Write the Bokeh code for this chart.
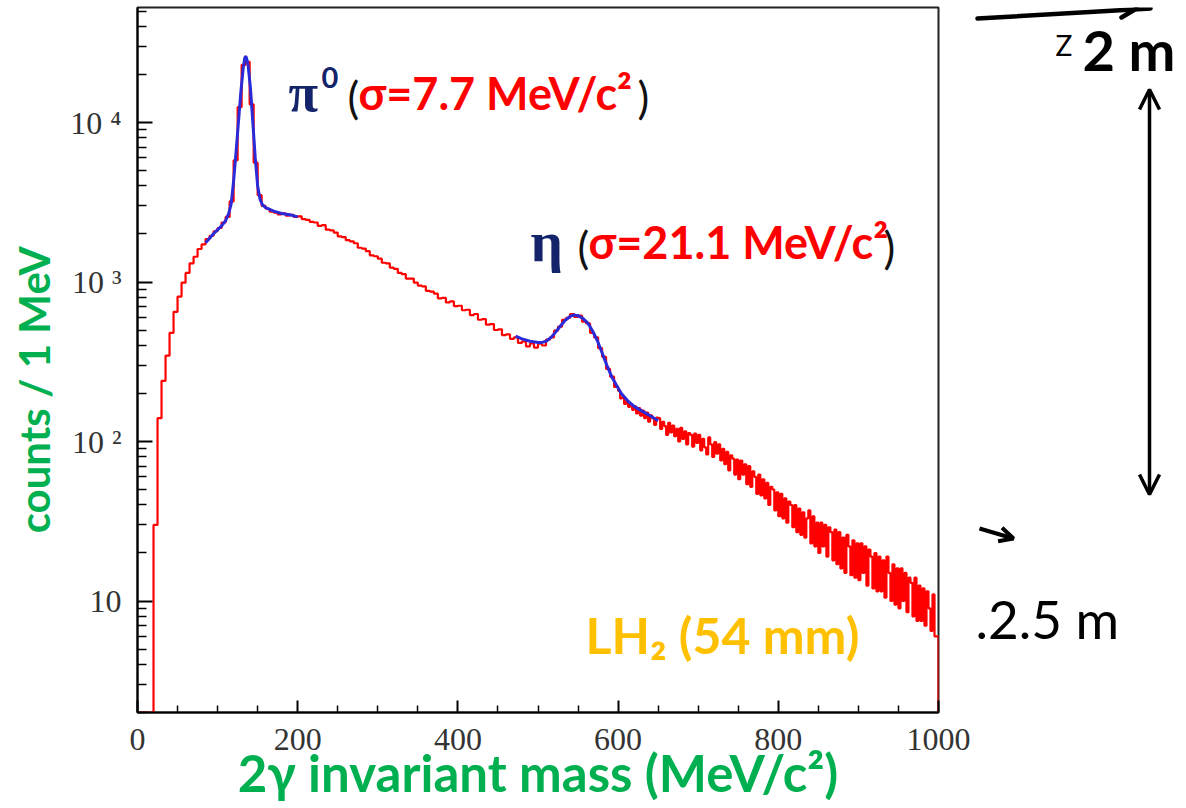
import math
from bokeh.plotting import figure
from bokeh.layouts import row
from bokeh.models import Range1d, FixedTicker, Label, Arrow, OpenHead
from bokeh.embed import file_html
from bokeh.resources import INLINE

# ---------------- data ----------------
# 5 MeV bins from 20 to 600 MeV
coarse_start, coarse_width = 20, 5
counts_coarse = [
    30, 140, 240, 345, 480, 650, 810, 990, 1140, 1310,
    1440, 1610, 1720, 1860, 1950, 2080, 2180, 2360, 2560, 3200,
    5800, 12500, 23000, 24000, 13000, 5600, 3500, 3000, 2880, 2760,
    2720, 2650, 2690, 2610, 2640, 2560, 2580, 2480, 2450, 2380,
    2360, 2250, 2270, 2130, 2110, 2040, 1930, 1910, 1830, 1800,
    1750, 1640, 1620, 1560, 1470, 1450, 1400, 1320, 1310, 1230,
    1210, 1140, 1120, 1050, 1050, 990, 950, 940, 880, 870,
    845, 790, 795, 745, 755, 705, 710, 665, 670, 620,
    630, 580, 585, 540, 545, 500, 505, 465, 470, 440,
    450, 415, 425, 395, 412, 388, 410, 400, 435, 450,
    495, 525, 580, 595, 630, 605, 615, 565, 550, 480,
    450, 385, 340, 285, 255, 220,
]
# 2.5 MeV bins from 600 to 1000 MeV
fine_start, fine_width = 600, 2.5
counts_fine = [
    208, 186, 190, 172, 180, 165, 172, 158, 166, 150,
    162, 145, 156, 140, 152, 133, 146, 140, 127, 141,
    140, 120, 133, 125, 110, 131, 114, 126, 108, 120,
    100, 122, 104, 116, 96, 113, 110, 93, 112, 98,
    110, 88, 104, 92, 83, 106, 96, 80, 99, 84,
    96, 76, 90, 72, 86, 66, 82, 78, 62, 77,
    58, 76, 62, 72, 54, 70, 52, 65, 60, 47,
    62, 46, 58, 44, 55, 40, 52, 50, 37, 48,
    34, 47, 33, 44, 31, 42, 40, 29, 40, 27,
    38, 26, 36, 25, 33, 37, 23, 34, 22, 31,
    20, 31, 22, 30, 19, 29, 27, 18, 28, 17,
    27, 16, 25, 15, 26, 22, 14.5, 24, 14, 23,
    13.5, 23, 15, 22, 12.5, 21, 19, 12, 20, 11.5,
    19, 11.5, 18, 10.5, 19, 15, 10, 17, 9.5, 16,
    9, 16, 10, 15, 8.5, 14, 13, 8, 14, 7.5,
    12.5, 7.5, 12, 7, 11.5, 9, 6.5, 11, 6, 6,
]

fit_pi0_mass = [85, 95, 105, 110, 114, 117, 120, 123, 126, 129, 132, 134, 135,
                136, 138, 141, 144, 147, 150, 153, 156, 160, 170, 180, 190, 200]
fit_pi0_counts = [1760, 2010, 2250, 2420, 2700, 3100, 4300, 6500, 10000, 15500,
                  22000, 25500, 26000, 25500, 23000, 16500, 10000, 6000, 4000,
                  3300, 3050, 2930, 2780, 2690, 2640, 2560]

fit_eta_mass = [472, 480, 490, 500, 505, 510, 516, 522, 528, 534, 540, 545, 550,
                556, 562, 568, 574, 580, 586, 592, 598, 604, 612, 620, 630, 640, 650]
fit_eta_counts = [458, 440, 425, 418, 418, 425, 448, 485, 530, 575, 608, 622, 615,
                  592, 555, 495, 430, 360, 300, 255, 225, 200, 180, 166, 155, 145, 135]

x_major = [0, 200, 400, 600, 800, 1000]
x_minor = [50, 100, 150, 250, 300, 350, 450, 500, 550, 650, 700, 750, 850, 900, 950]
y_major = [10, 100, 1000, 10000]
y_labels = ["10", "10 \u00b2", "10 \u00b3", "10 \u2074"]
y_minor = [m * d for d in (1, 10, 100, 1000, 10000) for m in range(2, 10)]

y_lo, y_hi = 2.0, 52600
H = 806
TOP, BOTTOM = 7, 94          # borders -> frame spans page y 7..712


def ylog(py):
    """page-pixel row -> count value on the log axis (for text placement)"""
    frac = (py - TOP) / (H - TOP - BOTTOM)
    return 10 ** (math.log10(y_hi) - frac * (math.log10(y_hi) - math.log10(y_lo)))


def xm(px):
    """page-pixel column -> mass value (for text placement)"""
    return (px - 137) / 801 * 1000


# ---------------- main figure ----------------
p = figure(width=972, height=H, output_backend="svg", toolbar_location=None,
           x_range=Range1d(0, 1000), y_range=Range1d(y_lo, y_hi),
           y_axis_type="log",
           min_border_left=137, min_border_right=34, min_border_top=TOP,
           min_border_bottom=BOTTOM)
p.xgrid.visible = False
p.ygrid.visible = False
p.background_fill_color = "white"
p.border_fill_color = "white"
p.outline_line_color = "#222222"
p.outline_line_width = 2

p.xaxis.ticker = FixedTicker(ticks=x_major, minor_ticks=x_minor)
p.yaxis.ticker = FixedTicker(ticks=y_major, minor_ticks=y_minor)
p.yaxis.major_label_overrides = {t: l for t, l in zip(y_major, y_labels)}
for ax in (p.xaxis, p.yaxis):
    ax.axis_line_width = 2
    ax.axis_line_color = "black"
    ax.major_tick_out = 0
    ax.minor_tick_out = 0
    ax.major_tick_line_width = 2
    ax.minor_tick_line_width = 1.5
    ax.major_label_text_font = "Liberation Serif"
    ax.major_label_text_font_size = "32px"
    ax.major_label_text_color = "#333333"
    ax.axis_label_text_font = "Lato"
    ax.axis_label_text_font_style = "bold"
    ax.axis_label_text_color = "#00b050"
p.xaxis.major_tick_in = 12
p.xaxis.minor_tick_in = 7
p.yaxis.major_tick_in = 15
p.yaxis.minor_tick_in = 9
p.xaxis.major_label_standoff = 16
p.yaxis.major_label_standoff = 16

p.xaxis.axis_label = "2\u03b3 invariant mass (MeV/c\u00b2)"
p.xaxis.axis_label_text_font_size = "51px"
p.xaxis.axis_label_standoff = -11
p.yaxis.axis_label = "counts / 1 MeV" + "\u00a0" * 6
p.yaxis.axis_label_text_font_size = "42px"
p.yaxis.axis_label_standoff = 8

# histogram (step)
edges = ([coarse_start + i * coarse_width for i in range(len(counts_coarse))] +
         [fine_start + i * fine_width for i in range(len(counts_fine))])
counts = counts_coarse + counts_fine
hx = [0] + edges + [1000]
hy = [y_lo] + counts + [y_lo]
p.step(hx, hy, mode="after", line_color="#ff0000", line_width=2.2)

# fits
p.line(fit_pi0_mass, fit_pi0_counts, line_color="#2a2ad8", line_width=3)
p.line(fit_eta_mass, fit_eta_counts, line_color="#2a2ad8", line_width=3)

SANS = "Lato"
NAVY = "#14246b"
RED = "#ff0000"
GOLD = "#ffc000"


def lab(fig, x, y, text, size, color, font=SANS, style="bold", align="left"):
    fig.add_layout(Label(x=x, y=y, text=text, text_font=font,
                         text_font_size=size, text_font_style=style,
                         text_color=color, text_align=align,
                         text_baseline="middle"))


# peak annotations (positions given by page pixel of the text's middle)
lab(p, xm(288), ylog(92), "\u03c0", "54px", NAVY, font="Liberation Serif")
lab(p, xm(321), ylog(77), "0", "29px", NAVY)
lab(p, xm(347), ylog(96), "(", "44px", "#111111", style="normal")
lab(p, xm(358), ylog(92), "\u03c3=7.7 MeV/c\u00b2", "45px", RED)
lab(p, xm(637), ylog(96), ")", "44px", "#111111", style="normal")

lab(p, xm(530), ylog(241), "\u03b7", "57px", NAVY, font="Liberation Serif")
lab(p, xm(577), ylog(246), "(", "44px", "#111111", style="normal")
lab(p, xm(588), ylog(241), "\u03c3=21.1 MeV/c\u00b2", "45px", RED)
lab(p, xm(883), ylog(246), ")", "44px", "#111111", style="normal")

lab(p, xm(585), ylog(634), "LH\u2082 (54 mm)", "50px", GOLD)

# ---------------- right-hand fragments (page-pixel coordinates) ----------------
p2 = figure(width=208, height=H, output_backend="svg", toolbar_location=None,
            x_range=Range1d(972, 1180), y_range=Range1d(H - BOTTOM, TOP),
            x_axis_location=None, y_axis_location=None, min_border=0)
p2.xgrid.visible = False
p2.ygrid.visible = False
p2.outline_line_color = None
p2.background_fill_color = "white"
p2.border_fill_color = "white"

# top arrow (its tip is cut off by the picture's top edge)
p2.line([977, 1150], [18, 8], line_color="black", line_width=4.5, line_cap="round")
p2.line([1121, 1136], [17, 8], line_color="black", line_width=4.5, line_cap="round")
p2.add_layout(Arrow(start=OpenHead(size=20, line_width=3.5, line_color="black"),
                    end=OpenHead(size=20, line_width=3.5, line_color="black"),
                    x_start=1149, y_start=89, x_end=1149, y_end=494,
                    line_width=3.5, line_color="black"))
p2.add_layout(Arrow(end=OpenHead(size=14, line_width=4, line_color="black"),
                    x_start=979, y_start=528, x_end=1013, y_end=538,
                    line_width=4, line_color="black"))
lab(p2, 1055, 44, "Z", "28px", "black", style="normal")
lab(p2, 1082, 49, "2 m", "56px", "black")
lab(p2, 975, 618, ".2.5 m", "53px", "black", style="normal")

layout = row(p, p2)
open("out.html", "w").write(file_html(layout, INLINE))
